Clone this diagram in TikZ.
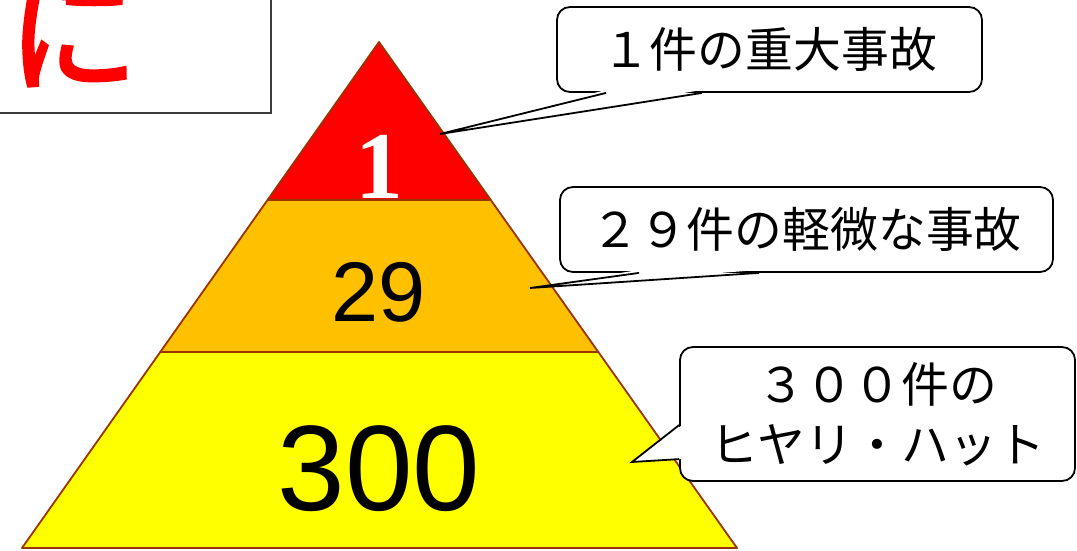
\documentclass[tikz,border=0pt]{standalone}
\usepackage{fontspec}
\setmainfont{Liberation Sans}
\newfontfamily\jpfont{Noto Sans CJK JP}
\newfontfamily\jpheavy[FakeBold=2]{Noto Sans CJK JP}
\newfontfamily\numserif{Liberation Serif}
\usetikzlibrary{calc, positioning}
\definecolor{layerred}{RGB}{255, 0, 0}
\definecolor{layerorange}{RGB}{255, 192, 0}
\definecolor{layeryellow}{RGB}{255, 255, 0}
\definecolor{layeredge}{RGB}{153, 51, 0}
\definecolor{framegray}{RGB}{60, 60, 60}
\tikzset{
    % one band of the pyramid
    layer/.style={
        draw=layeredge, line width=1.8pt, line join=round,
        fill=#1,
    },
    % big number inside a band
    numlabel/.style={
        font=\fontsize{#1}{#1}\selectfont,
        inner sep=0pt,
        anchor=base,
    },
    % speech bubble box
    callout/.style={
        draw=black, line width=1.8pt, fill=white,
        rounded corners=13pt,
        font=\jpfont\fontsize{48}{60}\selectfont,
        align=center, inner sep=0pt,
    },
    % bubble tail
    tailline/.style={
        draw=black, line width=1.8pt, line join=miter,
    },
}

\begin{document}
\begin{tikzpicture}[x=1bp, y=-1bp]
\useasboundingbox (0,0) rectangle (1077,551);

% --- top-left frame, cut by the page ---
\draw[framegray, line width=1.8pt] (271,0) |- (0,113);
\fill[red!40] (62,0) rectangle (123,1.5);
\node[text=red, font=\jpheavy\fontsize{132}{132}\selectfont,
      inner sep=0pt, anchor=base west] (ni) at (7,82) {に};

% --- pyramid ---
\coordinate (apex) at (379,42);
\coordinate (bl) at (22,548);
\coordinate (br) at (737,548);
\coordinate (l1) at ($(apex)!0.312!(bl)$);
\coordinate (r1) at ($(apex)!0.312!(br)$);
\coordinate (l2) at ($(apex)!0.6126!(bl)$);
\coordinate (r2) at ($(apex)!0.6126!(br)$);

\draw[layer=layeryellow] (l2) -- (r2) -- (br) -- (bl) -- cycle;
\draw[layer=layerorange] (l1) -- (r1) -- (r2) -- (l2) -- cycle;
\draw[layer=layerred] (apex) -- (r1) -- (l1) -- cycle;

\node[numlabel=96, text=white] (n1) at (379,199) {\numserif\bfseries 1};
\node[numlabel=85] (n29) at (379,322) {29};
\node[numlabel=122] (n300) at (379,510) {300};

% --- callouts ---
\node[callout, minimum width=425bp, minimum height=85bp] (c1) at (769.5,49.5) {１件の重大事故};
\node[callout, minimum width=493bp, minimum height=85bp] (c2) at (806.5,229.5) {２９件の軽微な事故};
\node[callout, minimum width=395bp, minimum height=134bp] (c3) at (877.5,414) {３００件の\\ヒヤリ・ハット};

\coordinate (tip1) at (440,134);
\coordinate (tip2) at (530,288);
\coordinate (tip3) at (632,462);

% tails
\fill[white] ($(c1.south west)+(50,-3)$) -- (tip1) -- ($(c1.south west)+(146,-3)$) -- cycle;
\draw[tailline] ($(c1.south west)+(50,0)$) -- (tip1) -- ($(c1.south west)+(146,0)$);

\fill[white] ($(c2.south west)+(80,-3)$) -- (tip2) -- ($(c2.south west)+(200,-3)$) -- cycle;
\draw[tailline] ($(c2.south west)+(80,0)$) -- (tip2) -- ($(c2.south west)+(200,0)$);

\fill[white] ($(c3.north west)+(3,79)$) -- (tip3) -- ($(c3.north west)+(3,113)$) -- cycle;
\draw[tailline] ($(c3.north west)+(0,79)$) -- (tip3) -- ($(c3.north west)+(0,113)$);

\end{tikzpicture}
\end{document}
